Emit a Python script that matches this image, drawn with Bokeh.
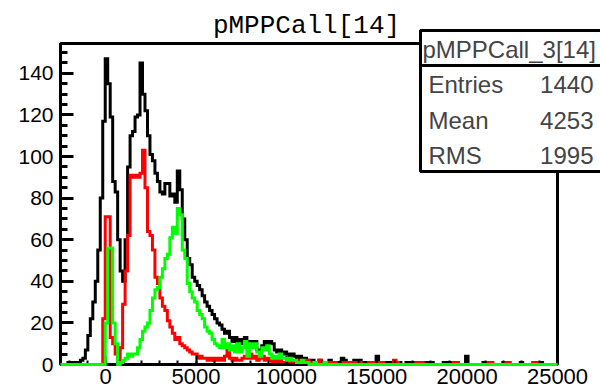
import numpy as np
from bokeh.plotting import figure
from bokeh.models import FixedTicker, Range1d, BoxAnnotation, Label
from bokeh.embed import file_html
from bokeh.resources import INLINE

# ---------------- data ----------------
x_min = -2500.0
x_max = 25000.0
bin_width = 137.5
y_max = 154.35

black_counts = [
    0, 0, 0, 1, 0, 1, 1, 0, 2, 3,            # 0-9
    7, 14, 22, 30, 40, 55, 80, 117, 147, 135,  # 10-19
    119, 88, 83, 60, 45, 40, 60, 95, 110, 112,  # 20-29
    119, 120, 145, 130, 122, 110, 101, 98, 92, 88,  # 30-39
    83, 82, 87, 87, 81, 82, 78, 93, 84, 70,   # 40-49
    60, 51, 48, 42, 40, 38, 36, 33, 30, 28,   # 50-59
    26, 24, 22, 20, 19, 17, 15, 16, 13, 11,   # 60-69
    13, 10, 12, 10, 13, 9, 11, 10, 11, 7,     # 70-79
    7, 9, 11, 10, 11, 10, 7, 6, 7, 5,         # 80-89
    6, 5, 4, 5, 4, 3, 4, 2, 3, 2,             # 90-99
    1, 2, 1, 1, 2, 1, 0, 1, 2, 1,             # 100-109
    1, 0, 1, 3, 2, 1, 1, 1, 2, 1,             # 110-119
    2, 1, 1, 0, 1, 1, 1, 4, 1, 1,             # 120-129
    0, 1, 1, 1, 1, 0, 1, 0, 0, 1,             # 130-139
    0, 1, 1, 0, 0, 1, 1, 0, 1, 1,             # 140-149
    0, 0, 0, 0, 1, 0, 1, 1, 0, 1,             # 150-159
    0, 0, 0, 4, 0, 0, 0, 0, 0, 0,             # 160-169
    1, 1, 0, 0, 0, 0, 0, 0, 1, 0,             # 170-179
    0, 0, 0, 0, 0, 1, 0, 0, 0, 0,             # 180-189
    0, 0, 1, 1, 0, 0, 0, 0, 0, 0,             # 190-199
]

red_counts = [
    0, 0, 0, 0, 0, 0, 0, 0, 0, 0,             # 0-9
    0, 0, 0, 0, 0, 0, 0, 22, 71, 71,          # 10-19
    13, 10, 5, 1, 8, 29, 45, 62, 91, 90,      # 20-29
    91, 90, 92, 103, 85, 64, 62, 55, 42, 39,  # 30-39
    32, 28, 26, 21, 18, 15, 12, 13, 10, 9,    # 40-49
    8, 7, 6, 5, 5, 3, 4, 3, 3, 2,             # 50-59
    3, 2, 3, 2, 3, 2, 4, 8, 3, 2,             # 60-69
    3, 2, 2, 3, 4, 3, 5, 3, 4, 2,             # 70-79
    3, 4, 2, 3, 2, 1, 2, 1, 2, 1,             # 80-89
    1, 2, 1, 1, 0, 1, 2, 1, 1, 2,             # 90-99
    1, 0, 1, 1, 2, 1, 1, 0, 1, 0,             # 100-109
    1, 0, 0, 1, 1, 1, 1, 1, 1, 1,             # 110-119
    1, 0, 0, 0, 1, 1, 1, 1, 1, 1,             # 120-129
    0, 0, 0, 0, 2, 1, 0, 0, 0, 0,             # 130-139
    0, 0, 0, 1, 1, 1, 0, 0, 0, 0,             # 140-149
    0, 0, 0, 0, 0, 0, 0, 0, 1, 1,             # 150-159
    0, 0, 0, 0, 0, 0, 0, 0, 0, 0,             # 160-169
    0, 0, 1, 1, 0, 0, 0, 0, 0, 1,             # 170-179
    1, 0, 0, 0, 0, 0, 0, 0, 0, 0,             # 180-189
    1, 1, 0, 0, 0, 0, 0, 0, 0, 0,             # 190-199
]

green_counts = [
    0, 0, 0, 0, 0, 0, 0, 0, 0, 0,             # 0-9
    0, 0, 0, 0, 0, 0, 0, 0, 20, 56,           # 10-19
    56, 20, 10, 0, 1, 2, 3, 5, 4, 5,          # 20-29
    5, 8, 12, 16, 18, 20, 26, 32, 36, 37,     # 30-39
    42, 46, 51, 53, 61, 66, 63, 75, 72, 55,   # 40-49
    51, 39, 35, 32, 30, 26, 24, 22, 18, 16,   # 50-59
    15, 12, 10, 9, 8, 12, 8, 10, 7, 9,        # 60-69
    6, 10, 6, 8, 11, 4, 10, 8, 10, 6,         # 70-79
    4, 8, 7, 9, 5, 3, 4, 3, 5, 3,             # 80-89
    3, 2, 3, 2, 2, 1, 1, 2, 1, 1,             # 90-99
    0, 0, 1, 0, 0, 0, 1, 0, 0, 0,             # 100-109
] + [0] * 90                                   # 110-199

x_major = [0, 5000, 10000, 15000, 20000, 25000]
x_minor_step = 1000
y_major = [0, 20, 40, 60, 80, 100, 120, 140]
y_minor_step = 5

title_text = "pMPPCall[14]"
stats_title = "pMPPCall_3[14]"
stats_names = ["Entries", "Mean", "RMS"]
stats_values = ["1440", "4253", "1995"]

# ---------------- layout (pixels) ----------------
W, H = 600, 388
frame_l, frame_r, frame_t, frame_b = 60, 557, 43, 364   # visible ROOT frame
sx = (x_max - x_min) / (frame_r - frame_l)
sy = y_max / (frame_b - frame_t)
xr = Range1d(x_min - frame_l * sx, x_max + (W - frame_r) * sx)
yr = Range1d(-(H - frame_b) * sy, y_max + frame_t * sy)
label_shift = 8   # empirical baseline correction for Label text

p = figure(width=W, height=H, x_range=xr, y_range=yr, title=None,
           output_backend="svg", toolbar_location=None,
           min_border_left=0, min_border_right=0,
           min_border_top=0, min_border_bottom=0)
p.background_fill_color = "white"
p.border_fill_color = "white"
p.outline_line_color = None
p.xgrid.visible = False
p.ygrid.visible = False

edges = x_min + bin_width * np.arange(len(black_counts) + 1)


def step_xy(counts):
    xs = np.repeat(edges, 2)[1:-1]
    ys = np.repeat(np.asarray(counts, dtype=float), 2)
    return xs, ys


# ROOT-like frame (top / right sides; left / bottom come from the axes)
p.add_layout(BoxAnnotation(left=x_min, right=x_max, bottom=0, top=y_max,
                           fill_alpha=0.0, line_color="black", line_alpha=1.0,
                           line_width=3, level="underlay"))

for counts, col, lvl in [(black_counts, "#000000", "glyph"),
                         (red_counts, "#ff0000", "glyph"),
                         (green_counts, "#00ff00", "overlay")]:
    xs, ys = step_xy(counts)
    p.line(xs, ys, line_color=col, line_width=3, line_join="miter", level=lvl)

# axes drawn inside the canvas at the ROOT frame edges
xa, ya = p.xaxis[0], p.yaxis[0]
xa.fixed_location = 0
ya.fixed_location = x_min
xa.bounds = (x_min, x_max)
ya.bounds = (0, y_max)
xa.ticker = FixedTicker(ticks=x_major,
                        minor_ticks=list(np.arange(-2000, x_max + 1, x_minor_step)))
ya.ticker = FixedTicker(ticks=y_major,
                        minor_ticks=list(np.arange(0, y_max, y_minor_step)))
for ax in (xa, ya):
    ax.axis_line_color = "black"
    ax.axis_line_width = 3
    ax.major_tick_out = 0
    ax.minor_tick_out = 0
    ax.major_tick_line_color = "black"
    ax.minor_tick_line_color = "black"
    ax.major_label_text_font = "Liberation Sans"
    ax.major_label_text_color = "black"
ya.major_tick_in = 13
ya.minor_tick_in = 7
ya.major_tick_line_width = 3
ya.minor_tick_line_width = 3
ya.major_label_text_font_size = "21px"
ya.major_label_standoff = 7
xa.major_tick_in = 9
xa.minor_tick_in = 4
xa.major_tick_line_width = 2
xa.minor_tick_line_width = 2
xa.major_label_text_font_size = "22px"
xa.major_label_standoff = 4

# title
p.add_layout(Label(x=306, y=H - 33 + label_shift, x_units="screen", y_units="screen",
                   text=title_text, text_font="Liberation Mono", text_font_size="26px",
                   text_baseline="alphabetic", text_align="center", text_color="black"))

# stats box
p.add_layout(BoxAnnotation(left=420, right=603, top=30, bottom=171,
                           left_units="canvas", right_units="canvas",
                           top_units="canvas", bottom_units="canvas",
                           fill_color="white", fill_alpha=1.0,
                           line_color="black", line_alpha=1.0, line_width=3, level="overlay"))
p.add_layout(BoxAnnotation(left=420, right=603, top=30, bottom=65,
                           left_units="canvas", right_units="canvas",
                           top_units="canvas", bottom_units="canvas",
                           fill_alpha=0.0, line_color="black", line_alpha=1.0,
                           line_width=3, level="overlay"))

p.add_layout(Label(x=422, y=H - 57 + label_shift, x_units="screen", y_units="screen",
                   text=stats_title, text_font="Liberation Sans", text_font_size="24px",
                   text_baseline="alphabetic", text_align="left", level="overlay"))
row_base = [92, 128, 163]
for name, val, yy in zip(stats_names, stats_values, row_base):
    p.add_layout(Label(x=428, y=H - yy + label_shift, x_units="screen", y_units="screen",
                       text=name, text_font="Liberation Sans", text_font_size="24px",
                       text_baseline="alphabetic", text_align="left", level="overlay"))
    p.add_layout(Label(x=593, y=H - yy + label_shift, x_units="screen", y_units="screen",
                       text=val, text_font="Liberation Sans", text_font_size="24px",
                       text_baseline="alphabetic", text_align="right", level="overlay"))

open("out.html", "w").write(file_html(p, INLINE))
